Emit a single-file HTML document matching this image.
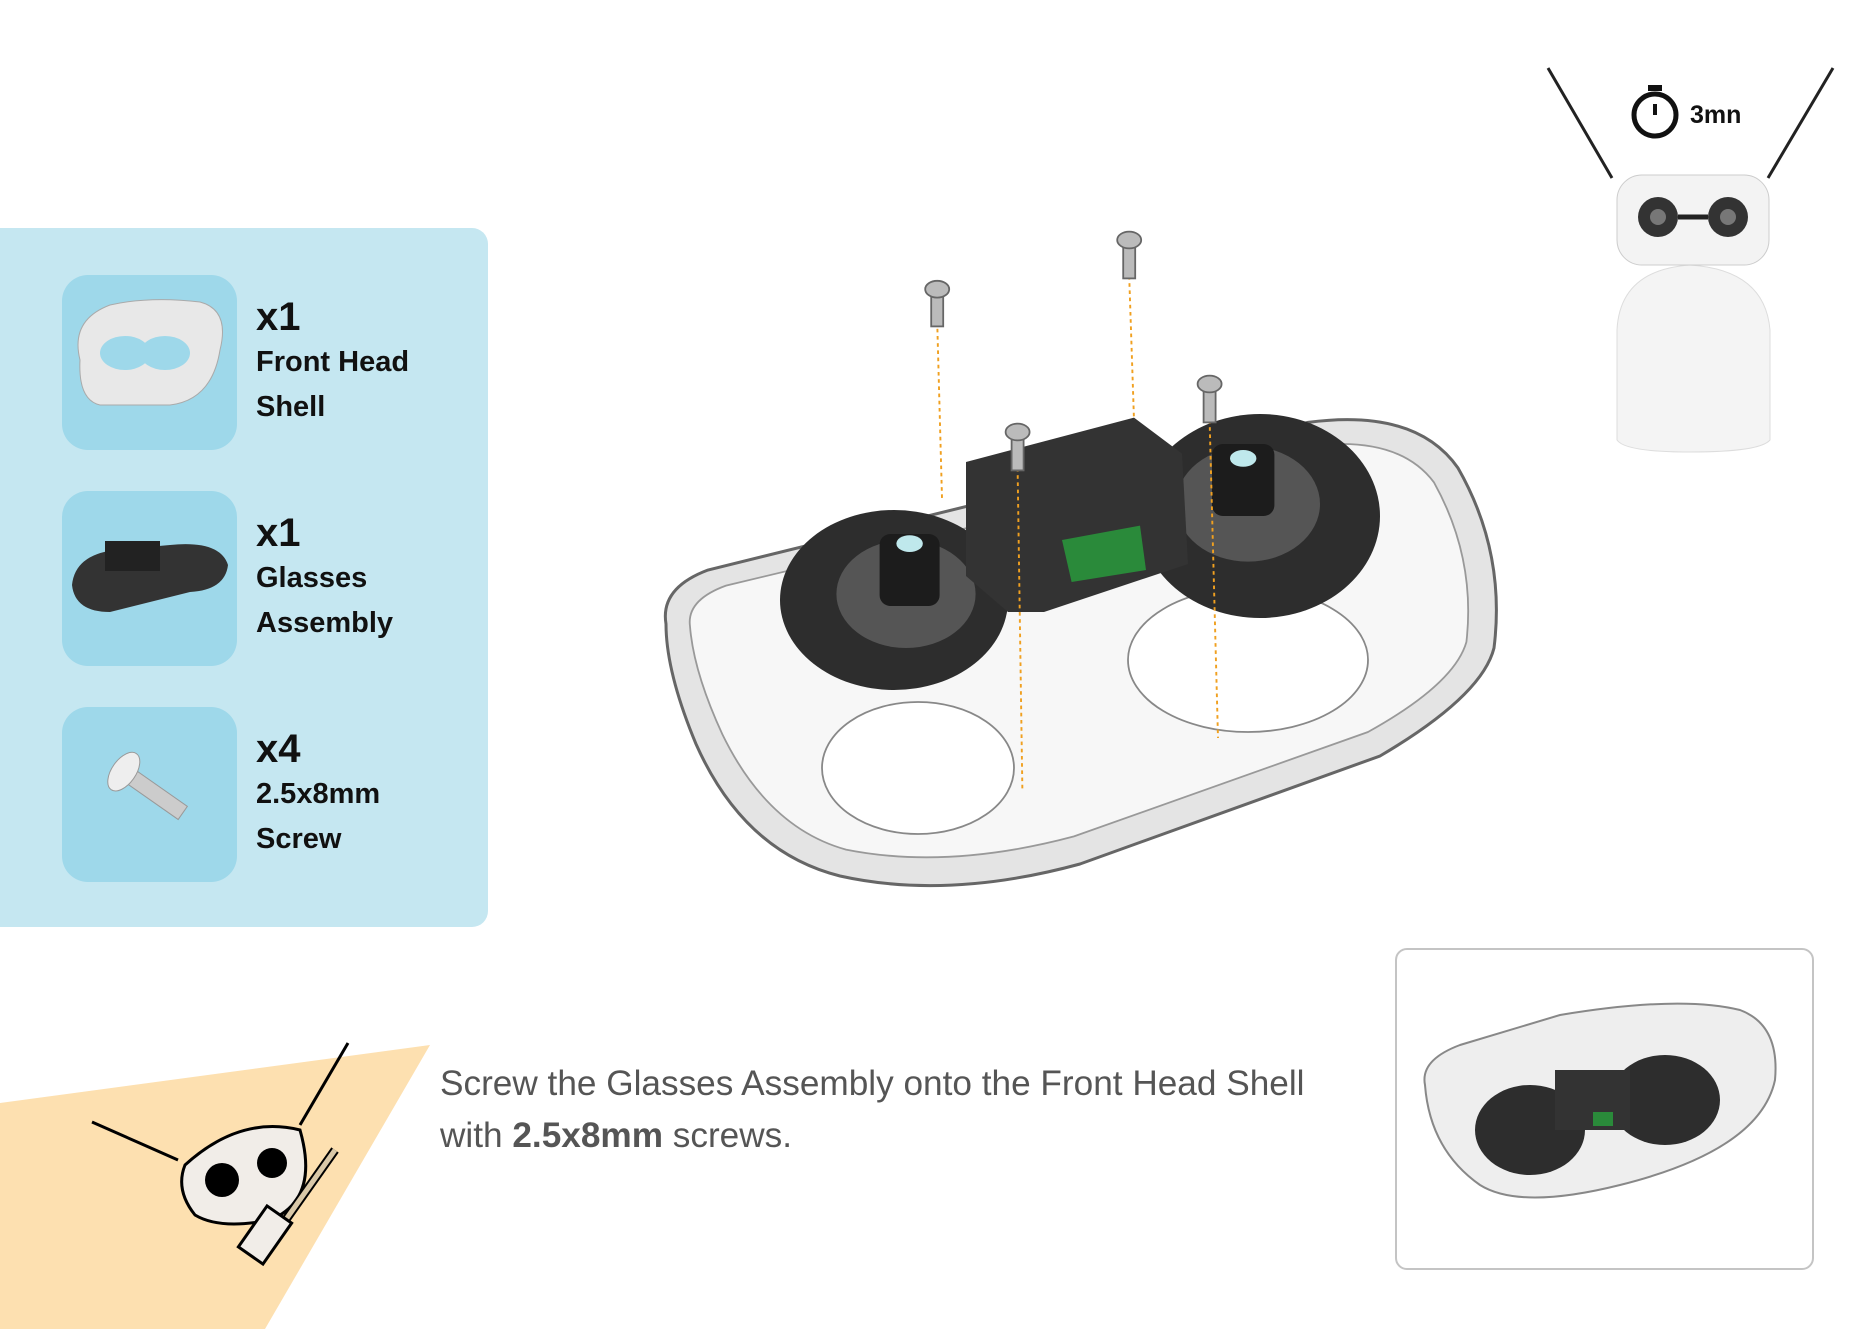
<!DOCTYPE html>
<html><head><meta charset="utf-8"><style>
body{margin:0;width:1864px;height:1329px;background:#fff;position:relative;overflow:hidden;font-family:"Liberation Sans",sans-serif}
.panel{position:absolute;left:0;top:228px;width:488px;height:699px;background:#c5e7f1;border-radius:0 16px 16px 0}
.box{position:absolute;left:62px;width:175px;height:175px;background:#9ed8ea;border-radius:26px}
.lbl{position:absolute;left:256px;color:#111;font-weight:bold;font-size:29px;line-height:45px}
.lbl b{font-size:40px;display:block;line-height:46px}
.txt{position:absolute;left:440px;top:1058px;font-size:35.2px;color:#555;line-height:52px;white-space:nowrap}
.inset{position:absolute;left:1395px;top:948px;width:415px;height:318px;border:2px solid #c4c4c4;border-radius:12px}
svg{position:absolute;left:0;top:0}
</style></head><body>
<div class="panel"></div>
<div class="box" style="top:275px"></div>
<div class="box" style="top:491px"></div>
<div class="box" style="top:707px"></div>
<div class="lbl" style="top:294px"><b>x1</b>Front Head<br>Shell</div>
<div class="lbl" style="top:510px"><b>x1</b>Glasses<br>Assembly</div>
<div class="lbl" style="top:726px"><b>x4</b>2.5x8mm<br>Screw</div>
<div class="txt">Screw the Glasses Assembly onto the Front Head Shell<br>with <b>2.5x8mm</b> screws.</div>
<div class="inset"></div>
<svg width="1864" height="1329" viewBox="0 0 1864 1329">
<polygon points="0,1103 430,1045 265,1329 0,1329" fill="#fde0b0"/>
<path d="M80,360 Q70,320 110,305 Q150,296 200,302 Q230,310 220,350 Q212,400 170,405 L100,405 Q78,400 80,360Z" fill="#e8e8e8" stroke="#aaa"/>
<ellipse cx="125" cy="353" rx="25" ry="17" fill="#9ed8ea"/><ellipse cx="165" cy="353" rx="25" ry="17" fill="#9ed8ea"/>
<path d="M72,585 Q75,555 115,550 L170,545 Q220,540 228,565 Q225,590 190,592 L110,612 Q75,612 72,585Z" fill="#333"/>
<rect x="105" y="541" width="55" height="30" fill="#222"/>
<g transform="rotate(35 150 790)"><rect x="120" y="782" width="70" height="16" fill="#ccc" stroke="#999"/><ellipse cx="118" cy="790" rx="12" ry="22" fill="#eee" stroke="#999"/></g>
<g transform="scale(1.2)">
<path d="M555,520 Q550,490 590,475 L1090,352 Q1180,340 1215,390 Q1255,460 1245,540 Q1235,580 1150,630 L900,720 Q790,750 700,730 Q620,710 580,620 Q555,560 555,520Z" fill="#e4e4e4" stroke="#666" stroke-width="2.5"/>
<path d="M575,522 Q572,500 605,488 L1090,372 Q1165,362 1195,402 Q1230,465 1222,535 Q1212,570 1140,610 L895,697 Q790,725 705,708 Q640,690 602,612 Q578,560 575,522Z" fill="#f7f7f7" stroke="#999" stroke-width="1.5"/>
<ellipse cx="765" cy="640" rx="80" ry="55" fill="#fff" stroke="#888" stroke-width="1.5"/>
<ellipse cx="1040" cy="550" rx="100" ry="60" fill="#fff" stroke="#888" stroke-width="1.5"/>
<ellipse cx="745" cy="500" rx="95" ry="75" fill="#2d2d2d"/>
<ellipse cx="1050" cy="430" rx="100" ry="85" fill="#2d2d2d"/>
<ellipse cx="755" cy="495" rx="58" ry="45" fill="#555"/><ellipse cx="1040" cy="420" rx="60" ry="48" fill="#555"/>
<rect x="733" y="445" width="50" height="60" rx="9" fill="#1c1c1c"/><ellipse cx="758" cy="453" rx="11" ry="7" fill="#bfe8ec"/>
<rect x="1010" y="370" width="52" height="60" rx="9" fill="#1c1c1c"/><ellipse cx="1036" cy="382" rx="11" ry="7" fill="#bfe8ec"/>
<polygon points="805,385 945,348 985,378 990,470 870,510 840,510 805,480" fill="#333"/>
<polygon points="885,450 950,438 955,475 893,485" fill="#2a8a3a"/>
<g stroke="#f0a020" stroke-width="1.6" stroke-dasharray="3,3"><line x1="781" y1="268" x2="785" y2="415"/><line x1="941" y1="230" x2="945" y2="350"/><line x1="848" y1="390" x2="852" y2="660"/><line x1="1008" y1="350" x2="1015" y2="615"/></g>
<g fill="#bbb" stroke="#666" stroke-width="1.5">
<rect x="776" y="245" width="10" height="27"/><ellipse cx="781" cy="241" rx="10" ry="7"/>
<rect x="936" y="205" width="10" height="27"/><ellipse cx="941" cy="200" rx="10" ry="7"/>
<rect x="843" y="365" width="10" height="27"/><ellipse cx="848" cy="360" rx="10" ry="7"/>
<rect x="1003" y="325" width="10" height="27"/><ellipse cx="1008" cy="320" rx="10" ry="7"/>
</g>
</g>
<path d="M1425,1085 Q1420,1060 1460,1045 L1560,1015 Q1680,995 1740,1010 Q1780,1025 1775,1080 Q1760,1150 1620,1185 Q1520,1210 1480,1185 Q1430,1150 1425,1085Z" fill="#eee" stroke="#888" stroke-width="2"/>
<ellipse cx="1530" cy="1130" rx="55" ry="45" fill="#2d2d2d"/><ellipse cx="1665" cy="1100" rx="55" ry="45" fill="#2d2d2d"/>
<rect x="1555" y="1070" width="75" height="60" fill="#333"/><rect x="1593" y="1112" width="20" height="14" fill="#2a8a3a"/>
<line x1="1548" y1="68" x2="1612" y2="178" stroke="#222" stroke-width="3"/><line x1="1833" y1="68" x2="1768" y2="178" stroke="#222" stroke-width="3"/>
<path d="M1617,330 Q1620,270 1690,265 Q1765,270 1770,330 L1770,440 Q1760,452 1690,452 Q1625,452 1617,440Z" fill="#f4f4f4" stroke="#ddd"/>
<rect x="1617" y="175" width="152" height="90" rx="25" fill="#f3f3f3" stroke="#ccc"/>
<circle cx="1658" cy="217" r="20" fill="#333"/><circle cx="1728" cy="217" r="20" fill="#333"/><line x1="1678" y1="217" x2="1708" y2="217" stroke="#222" stroke-width="5"/>
<circle cx="1658" cy="217" r="8" fill="#777"/><circle cx="1728" cy="217" r="8" fill="#777"/>
<circle cx="1655" cy="115" r="21" fill="none" stroke="#111" stroke-width="5"/><rect x="1648" y="85" width="14" height="6" fill="#111"/><line x1="1655" y1="115" x2="1655" y2="104" stroke="#111" stroke-width="4"/>
<text x="1690" y="123" font-family="Liberation Sans" font-weight="bold" font-size="25" fill="#111">3mn</text>
<line x1="92" y1="1122" x2="178" y2="1160" stroke="#000" stroke-width="3"/><line x1="348" y1="1043" x2="300" y2="1125" stroke="#000" stroke-width="3"/>
<path d="M185,1165 Q240,1115 300,1130 Q320,1200 270,1220 Q220,1230 195,1215 Q175,1190 185,1165Z" fill="#f1ede8" stroke="#000" stroke-width="3"/>
<circle cx="222" cy="1180" r="17" fill="#000"/><circle cx="272" cy="1163" r="15" fill="#000"/>
<line x1="335" y1="1150" x2="275" y2="1235" stroke="#000" stroke-width="9"/><line x1="335" y1="1150" x2="275" y2="1235" stroke="#d9c8a8" stroke-width="5"/>
<rect x="250" y="1210" width="30" height="50" transform="rotate(35 265 1235)" fill="#f1ede8" stroke="#000" stroke-width="3"/>
</svg>
</body></html>
